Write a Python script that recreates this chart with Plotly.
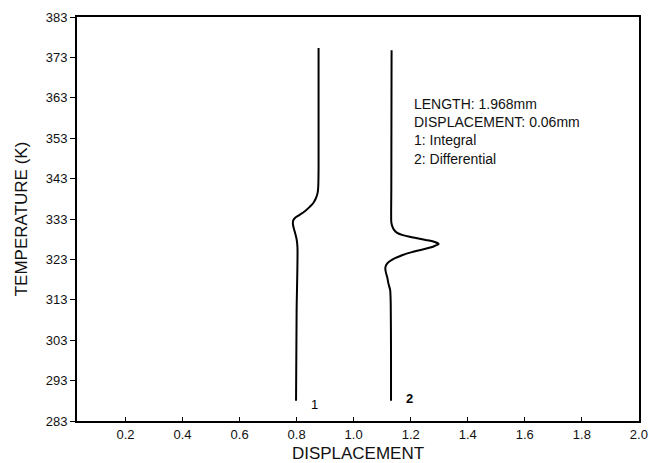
import plotly.graph_objects as go

# Curve 1: Integral
temp_integral = [288, 310, 326, 328, 329.5, 330.7, 331.8, 332.6, 333.3, 334.0, 335.0,
                 336.0, 336.9, 338.2, 339.6, 341.2, 346, 375.3]
disp_integral = [0.798, 0.800, 0.803, 0.800, 0.795, 0.790, 0.787, 0.788, 0.795, 0.810,
                 0.830, 0.846, 0.858, 0.868, 0.874, 0.876, 0.877, 0.877]

# Curve 2: Differential
temp_diff = [288, 300, 312, 315.4, 317, 318.5, 319.8, 320.8, 321.6, 322.4, 323.3, 324.1,
             324.8, 325.5, 326.2, 326.8, 327.3, 327.8, 328.4, 329.0, 329.7, 330.5, 331.3,
             332.2, 340, 374.8]
disp_diff = [1.131, 1.131, 1.130, 1.128, 1.122, 1.118, 1.113, 1.111, 1.114, 1.124, 1.145,
             1.172, 1.205, 1.245, 1.280, 1.298, 1.285, 1.253, 1.210, 1.172, 1.150, 1.140,
             1.135, 1.132, 1.132, 1.133]

x_ticks = [0.2, 0.4, 0.6, 0.8, 1.0, 1.2, 1.4, 1.6, 1.8, 2.0]
x_ticklabels = ["0.2", "0.4", "0.6", "0.8", "1.0", "1.2", "1.4", "1.6", "1.8", "2.0"]
y_ticks = [283, 293, 303, 313, 323, 333, 343, 353, 363, 373, 383]

info_lines = ["LENGTH: 1.968mm", "DISPLACEMENT: 0.06mm", "1: Integral", "2: Differential"]

FONT = "Liberation Sans, Arial, sans-serif"

fig = go.Figure()
fig.add_trace(go.Scatter(x=disp_integral, y=temp_integral, mode="lines",
                         line=dict(color="black", width=2, shape="spline", smoothing=0.8),
                         showlegend=False))
fig.add_trace(go.Scatter(x=disp_diff, y=temp_diff, mode="lines",
                         line=dict(color="black", width=2, shape="spline", smoothing=0.6),
                         showlegend=False))

fig.add_annotation(x=0.862, y=287.0, text="1", showarrow=False, xanchor="center", yanchor="middle",
                   font=dict(family=FONT, size=13, color="black"))
fig.add_annotation(x=1.195, y=288.6, text="<b>2</b>", showarrow=False, xanchor="center", yanchor="middle",
                   font=dict(family=FONT, size=13, color="black"))

fig.add_annotation(x=1.205, y=361.8, text="<br>".join(info_lines), showarrow=False,
                   xanchor="left", yanchor="top", align="left", yshift=9,
                   font=dict(family=FONT, size=14, color="#111"))

fig.update_layout(
    width=649, height=463,
    margin=dict(l=77, r=10, t=17, b=42),
    plot_bgcolor="white", paper_bgcolor="white",
    font=dict(family=FONT, size=13, color="#111"),
    xaxis=dict(range=[0.03, 2.0005], tickvals=x_ticks, ticktext=x_ticklabels,
               ticks="inside", ticklen=4, tickcolor="black", tickwidth=1,
               ticklabeloverflow="allow",
               showline=True, linecolor="black", linewidth=2, mirror=True,
               showgrid=False, zeroline=False,
               tickfont=dict(family=FONT, size=13, color="#111"),
               title=dict(text="DISPLACEMENT", standoff=8,
                          font=dict(family=FONT, size=17, color="#111")),
               automargin=False),
    yaxis=dict(range=[283, 383], tickvals=y_ticks,
               ticks="outside", ticklen=5, tickcolor="black", tickwidth=1,
               showline=True, linecolor="black", linewidth=2, mirror=True,
               showgrid=False, zeroline=False,
               tickfont=dict(family=FONT, size=13, color="#111"),
               title=dict(text="TEMPERATURE (K)", standoff=14,
                          font=dict(family=FONT, size=17, color="#111")),
               automargin=False),
)

fig.write_html("out.html")
